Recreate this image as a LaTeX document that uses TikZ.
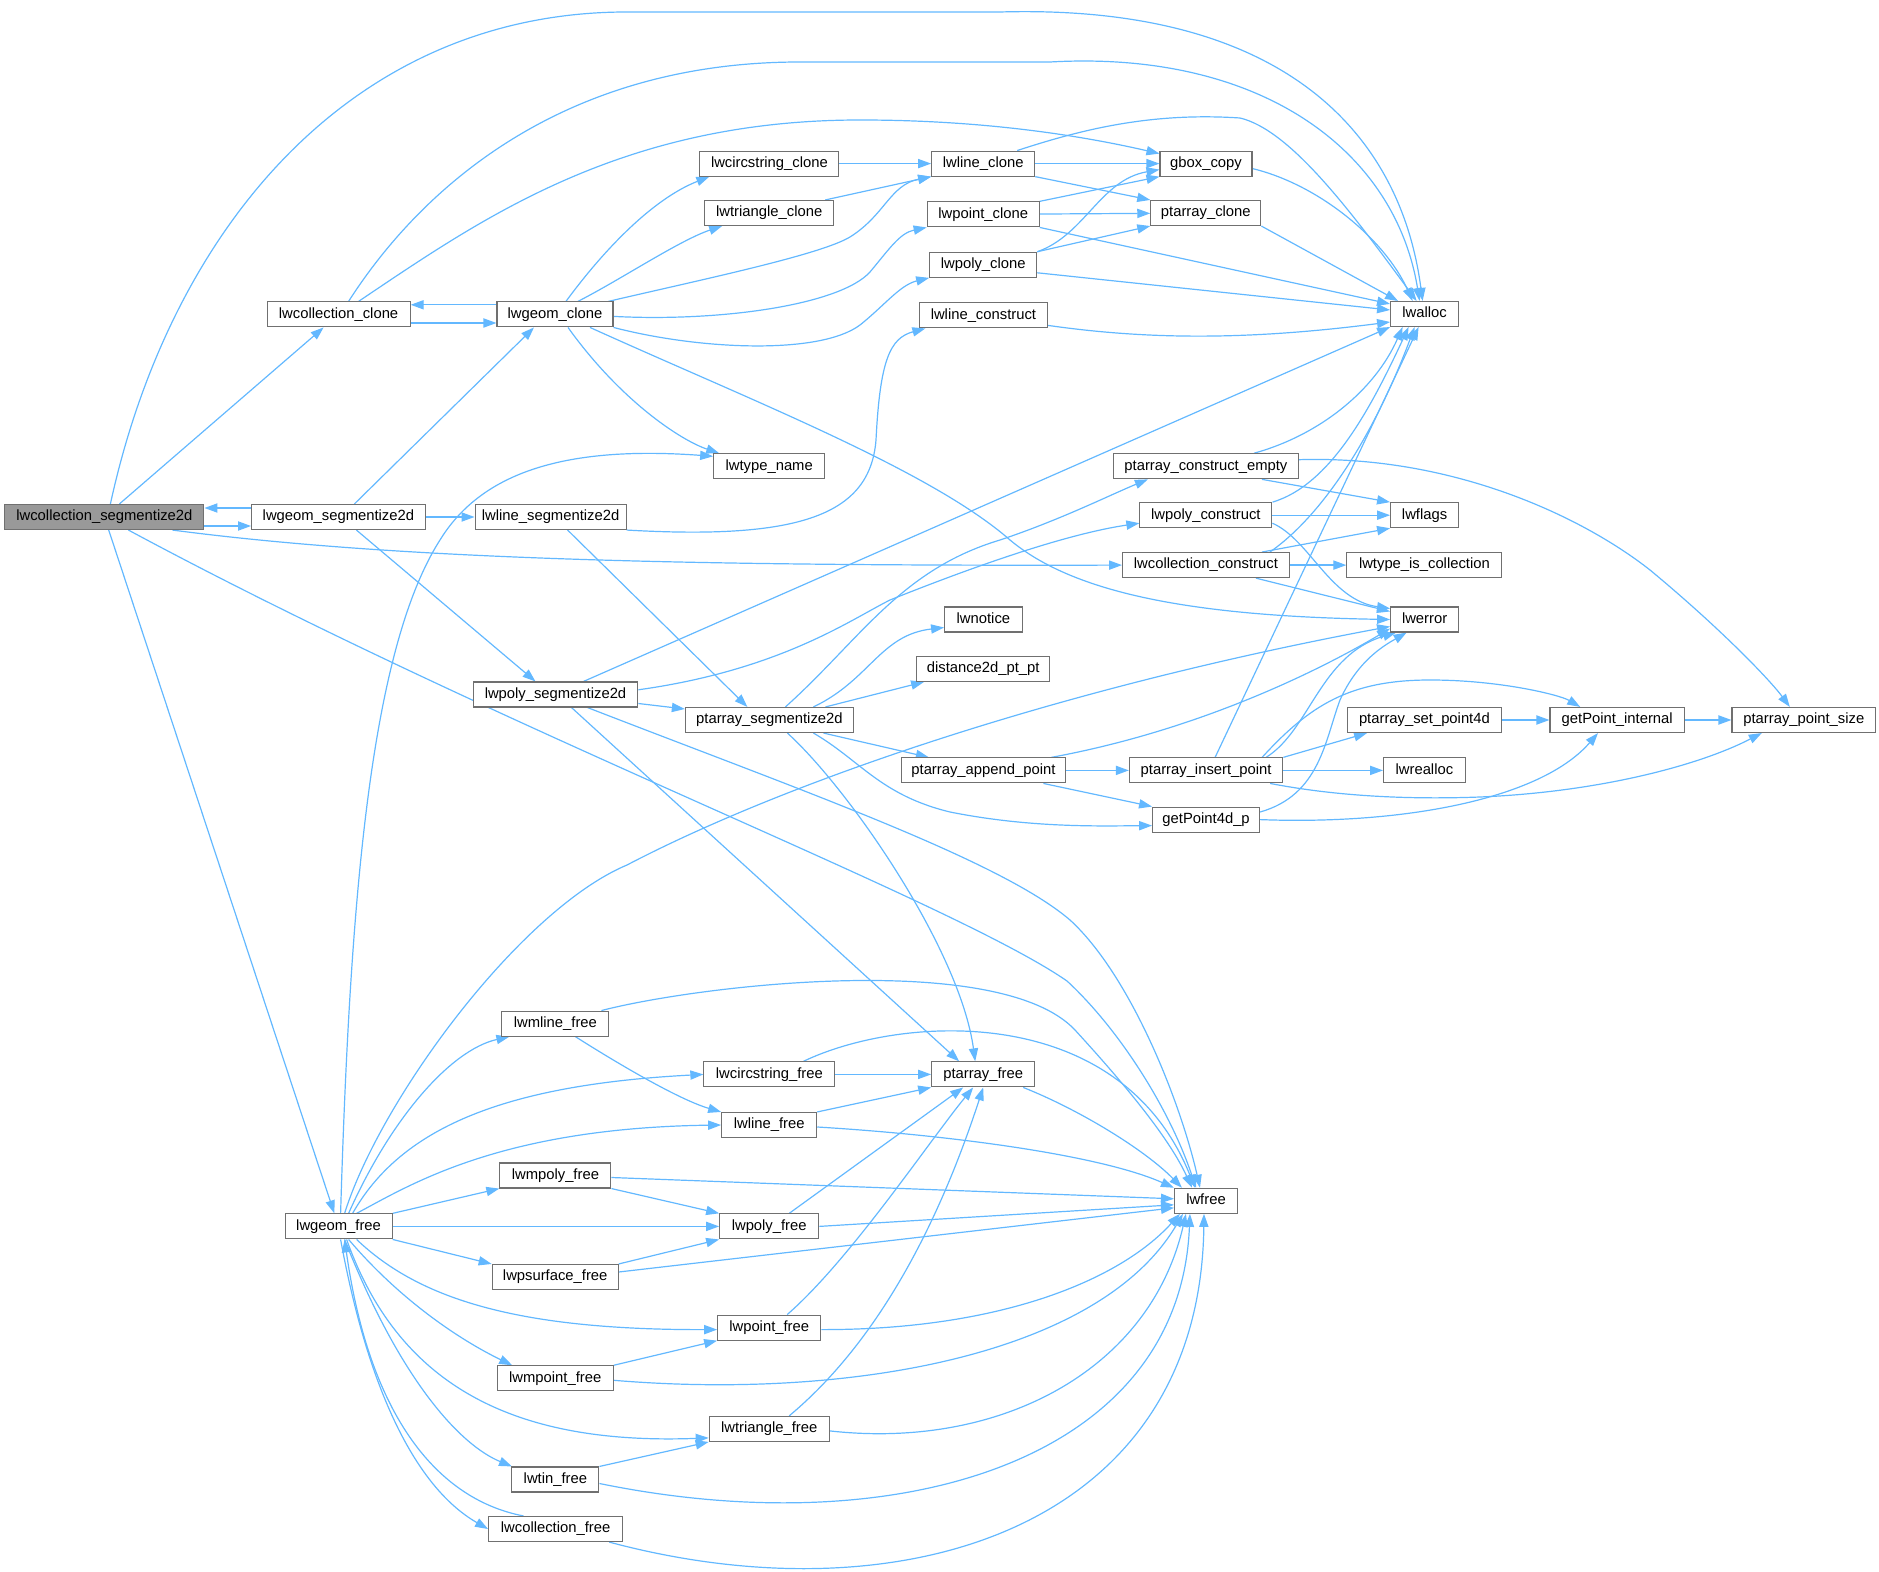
\documentclass[tikz,border=0pt]{standalone}
\usepackage{fontspec}
\setmainfont{Liberation Sans}
\usetikzlibrary{arrows.meta,backgrounds}
\definecolor{edgeblue}{HTML}{63B8FF}
\definecolor{boxgray}{HTML}{707070}
\definecolor{rootgray}{HTML}{999999}
\newcommand\fnsz{\fontsize{7.4pt}{8.5pt}\selectfont}
\begin{document}
\begin{tikzpicture}[x=0.5pt,y=-0.5pt,
  fn/.style={draw=boxgray, line width=0.55pt, fill=white, inner sep=0pt, minimum height=12.5pt, text height=5.4pt, text depth=1.5pt, font=\fnsz, text=black},
  rootn/.style={fn, fill=rootgray},
  e/.style={draw=edgeblue, line width=0.6pt, -{Triangle[length=6.5pt,width=4.6pt]}}]
\useasboundingbox (0,0) rectangle (1879,1572);
\node[rootn, minimum width=99.5pt] (S) at (104.4,517) {lwcollection\_segmentize2d};
\node[fn, minimum width=86.8pt] (GS) at (338.4,517) {lwgeom\_segmentize2d};
\node[fn, minimum width=75.5pt] (LS) at (550.6,517) {lwline\_segmentize2d};
\node[fn, minimum width=71.5pt] (CC) at (338.6,314.4) {lwcollection\_clone};
\node[fn, minimum width=58pt] (GC) at (555,314.4) {lwgeom\_clone};
\node[fn, minimum width=69.5pt] (N6) at (769.4,163.6) {lwcircstring\_clone};
\node[fn, minimum width=64.5pt] (N7) at (769.2,213) {lwtriangle\_clone};
\node[fn, minimum width=51.5pt] (N8) at (983.2,163.6) {lwline\_clone};
\node[fn, minimum width=56pt] (N9) at (983.2,214.4) {lwpoint\_clone};
\node[fn, minimum width=53.5pt] (N10) at (983.2,264.8) {lwpoly\_clone};
\node[fn, minimum width=64pt] (N11) at (983.4,315.4) {lwline\_construct};
\node[fn, minimum width=46pt] (N12) at (1206,163.6) {gbox\_copy};
\node[fn, minimum width=55pt] (N13) at (1205.8,213) {ptarray\_clone};
\node[fn, minimum width=34pt] (N14) at (1424.6,314) {lwalloc};
\node[fn, minimum width=55.5pt] (N15) at (769.2,466.3) {lwtype\_name};
\node[fn, minimum width=92.5pt] (N16) at (1205.9,466.3) {ptarray\_construct\_empty};
\node[fn, minimum width=66pt] (N17) at (1205.9,515.2) {lwpoly\_construct};
\node[fn, minimum width=34pt] (N18) at (1424.6,515.2) {lwflags};
\node[fn, minimum width=83.3pt] (N19) at (1205.9,565.1) {lwcollection\_construct};
\node[fn, minimum width=77.5pt] (N20) at (1424.4,565.1) {lwtype\_is\_collection};
\node[fn, minimum width=34pt] (N21) at (1424.6,619.5) {lwerror};
\node[fn, minimum width=38.8pt] (N22) at (983.4,619.5) {lwnotice};
\node[fn, minimum width=66.5pt] (N23) at (983.2,668.8) {distance2d\_pt\_pt};
\node[fn, minimum width=82.3pt] (N24) at (555.5,694.5) {lwpoly\_segmentize2d};
\node[fn, minimum width=84pt] (N25) at (769.4,720) {ptarray\_segmentize2d};
\node[fn, minimum width=82pt] (N26) at (983.4,770.4) {ptarray\_append\_point};
\node[fn, minimum width=76.7pt] (N27) at (1206.1,770.4) {ptarray\_insert\_point};
\node[fn, minimum width=53.5pt] (N28) at (1206.1,819.6) {getPoint4d\_p};
\node[fn, minimum width=76.8pt] (N29) at (1424.4,720) {ptarray\_set\_point4d};
\node[fn, minimum width=40.8pt] (N30) at (1424.4,770.4) {lwrealloc};
\node[fn, minimum width=67.2pt] (N31) at (1617.2,720) {getPoint\_internal};
\node[fn, minimum width=71.8pt] (N32) at (1803.8,720) {ptarray\_point\_size};
\node[fn, minimum width=53.5pt] (GF) at (338.6,1226.4) {lwgeom\_free};
\node[fn, minimum width=53.5pt] (N34) at (555.4,1023.6) {lwmline\_free};
\node[fn, minimum width=65.5pt] (N35) at (769.4,1074.4) {lwcircstring\_free};
\node[fn, minimum width=51.5pt] (N36) at (983.2,1074.4) {ptarray\_free};
\node[fn, minimum width=47.5pt] (N37) at (769.2,1125) {lwline\_free};
\node[fn, minimum width=55.5pt] (N38) at (555.4,1175.5) {lwmpoly\_free};
\node[fn, minimum width=49.5pt] (N39) at (769.2,1226.4) {lwpoly\_free};
\node[fn, minimum width=31.5pt] (N40) at (1206,1200.8) {lwfree};
\node[fn, minimum width=63pt] (N41) at (555.2,1277) {lwpsurface\_free};
\node[fn, minimum width=51.5pt] (N42) at (769.2,1327.6) {lwpoint\_free};
\node[fn, minimum width=58pt] (N43) at (555.2,1378.3) {lwmpoint\_free};
\node[fn, minimum width=60pt] (N44) at (769.2,1428.9) {lwtriangle\_free};
\node[fn, minimum width=43.5pt] (N45) at (555.4,1479.5) {lwtin\_free};
\node[fn, minimum width=67pt] (N46) at (555.6,1529) {lwcollection\_free};
\begin{pgfonlayer}{background}
% lwcollection_segmentize2d
\draw[e] ([xshift=3pt]S.north) .. controls (170,230) and (350,12) .. (627,12) -- (1000,12) .. controls (1280,4) and (1400,130) .. ([xshift=-1pt]N14.north);
\draw[e] ([xshift=7.5pt]S.north) -- ([xshift=-7.5pt]CC.south);
\draw[e] ([yshift=-4.5pt]S.east) -- ([yshift=-4.5pt]GS.west);
\draw[e] ([xshift=34pt]S.south) .. controls (400,560) and (700,566) .. (N19.west);
\draw[e] ([xshift=12pt]S.south) .. controls (500,730) and (950,900) .. (1067,981) .. controls (1120,1030) and (1170,1110) .. ([xshift=-5pt]N40.north);
\draw[e] (S) -- (GF);
% lwgeom_segmentize2d
\draw[e] ([yshift=4.5pt]GS.west) -- ([yshift=4.5pt]S.east);
\draw[e] ([xshift=8pt]GS.north) -- ([xshift=-10.5pt]GC.south);
\draw[e] (GS) -- (LS);
\draw[e] ([xshift=9pt]GS.south) -- ([xshift=-10pt]N24.north);
% lwcollection_clone
\draw[e] ([xshift=5pt]CC.north) .. controls (420,190) and (560,62) .. (800,62) -- (1050,62) .. controls (1260,50) and (1395,150) .. ([xshift=-2.5pt]N14.north);
\draw[e] ([xshift=10pt]CC.north) .. controls (480,220) and (620,120) .. (860,120) .. controls (1000,120) and (1100,140) .. ([yshift=5pt]N12.west);
\draw[e] ([yshift=-4.3pt]CC.east) -- ([yshift=-4.3pt]GC.west);
% lwgeom_clone
\draw[e] ([yshift=4.8pt]GC.west) -- ([yshift=4.8pt]CC.east);
\draw[e] ([xshift=5.5pt]GC.north) .. controls (600,255) and (650,200) .. ([xshift=5pt]N6.south west);
\draw[e] ([xshift=11.5pt]GC.north) .. controls (620,280) and (680,240) .. ([xshift=9pt]N7.south west);
\draw[e] ([xshift=-2.5pt]GC.north east) .. controls (700,280) and (820,255) .. (850,237) .. controls (885,215) and (890,185) .. (N8.south west);
\draw[e] ([yshift=-1pt]GC.east) .. controls (720,322) and (840,305) .. (870,272) .. controls (890,248) and (900,233) .. (N9.south west);
\draw[e] (GC.south east) .. controls (700,350) and (820,355) .. (860,325) .. controls (885,305) and (900,285) .. (N10.south west);
\draw[e] ([xshift=6.5pt]GC.south) .. controls (620,400) and (680,440) .. ([xshift=-25pt]N15.north);
\draw[e] ([xshift=17.5pt]GC.south) .. controls (750,400) and (930,470) .. (1010,540) .. controls (1070,590) and (1180,616) .. (N21.west);
% clones
\draw[e] (N6) -- (N8);
\draw[e] ([xshift=-4.5pt]N7.north east) -- (N8.south west);
\draw[e] (N8) -- (N12);
\draw[e] (N8.south east) -- (N13.north west);
\draw[e] ([xshift=17pt]N8.north) .. controls (1080,130) and (1150,112) .. (1240,118) .. controls (1290,130) and (1350,210) .. ([xshift=-4pt]N14.north);
\draw[e] (N9.north east) -- (N12.south west);
\draw[e] (N9) -- (N13);
\draw[e] (N9.south east) -- ([yshift=-1.5pt]N14.north west);
\draw[e] (N10.north east) .. controls (1085,235) and (1100,180) .. ([yshift=-3pt]N12.west);
\draw[e] (N10.north east) -- (N13.south west);
\draw[e] ([yshift=-4pt]N10.east) -- ([yshift=2pt]N14.west);
\draw[e] ([yshift=-5pt]N11.east) .. controls (1150,340) and (1250,340) .. ([yshift=-4pt]N14.west);
\draw[e] ([yshift=-2.5pt]N12.east) .. controls (1320,185) and (1385,240) .. ([xshift=-6pt]N14.north);
\draw[e] (N13.south east) -- ([xshift=4pt]N14.north west);
% lwline_segmentize2d
\draw[e] (LS.south east) .. controls (800,540) and (870,515) .. (876,440) .. controls (880,360) and (890,338) .. ([xshift=-29pt]N11.south);
\draw[e] ([xshift=8.5pt]LS.south) -- ([xshift=-11pt]N25.north);
% lwpoly_segmentize2d
\draw[e] ([xshift=14pt]N24.north) -- (N14.south west);
\draw[e] ([yshift=2.35pt]N24.east) .. controls (780,670) and (850,620) .. (890,600) .. controls (960,572) and (1060,535) .. ([yshift=-4pt]N17.west);
\draw[e] ([yshift=-4.5pt]N24.east) -- ([yshift=5.5pt]N25.west);
\draw[e] ([xshift=8pt]N24.south) -- ([xshift=-12pt]N36.north);
\draw[e] ([xshift=16pt]N24.south) .. controls (800,790) and (1000,860) .. (1070,920) .. controls (1130,975) and (1180,1100) .. ([xshift=-3pt]N40.north);
% ptarray_segmentize2d
\draw[e] ([xshift=8pt]N25.north) .. controls (860,640) and (900,570) .. (1000,540) .. controls (1060,520) and (1110,495) .. ([xshift=-29pt]N16.south);
\draw[e] ([xshift=22pt]N25.north) .. controls (870,680) and (880,635) .. ([yshift=-4pt]N22.west);
\draw[e] ([xshift=28pt]N25.north) -- ([xshift=4pt]N23.south west);
\draw[e] ([xshift=27pt]N25.south) -- ([xshift=14pt]N26.north west);
\draw[e] ([xshift=22pt]N25.south) .. controls (860,760) and (880,795) .. (950,812) .. controls (1030,828) and (1100,826) .. ([yshift=-3pt]N28.west);
\draw[e] ([xshift=9pt]N25.south) .. controls (850,790) and (960,950) .. ([xshift=-4pt]N36.north);
% ptarray_append_point
\draw[e] ([xshift=34pt]N26.north) .. controls (1200,730) and (1320,670) .. ([yshift=2pt]N21.south west);
\draw[e] (N26) -- (N27);
\draw[e] ([xshift=30pt]N26.south) -- (N28.north west);
% ptarray_insert_point
\draw[e] ([xshift=4.5pt]N27.north) -- ([xshift=-3pt]N14.south);
\draw[e] ([xshift=30pt]N27.north) .. controls (1310,730) and (1320,655) .. ([xshift=3pt]N21.south west);
\draw[e] (N27.north east) -- ([xshift=10pt]N29.south west);
\draw[e] ([xshift=28pt]N27.north) .. controls (1310,705) and (1350,680) .. (1430,680) .. controls (1500,680) and (1560,695) .. ([xshift=-18.5pt]N31.north);
\draw[e] (N27) -- (N30);
\draw[e] ([xshift=32pt]N27.south) .. controls (1330,795) and (1400,800) .. (1480,797) .. controls (1600,792) and (1700,765) .. ([xshift=-21pt]N32.south);
% getPoint4d_p
\draw[e] ([yshift=3.8pt]N28.east) .. controls (1320,795) and (1325,740) .. (1340,700) .. controls (1358,660) and (1385,645) .. ([xshift=-9pt]N21.south);
\draw[e] (N28.east) .. controls (1400,825) and (1540,800) .. ([xshift=-9.6pt]N31.south);
\draw[e] (N29) -- (N31);
\draw[e] (N31) -- (N32);
% ptarray_construct_empty
\draw[e] ([yshift=3.3pt]N16.east) .. controls (1450,455) and (1580,515) .. (1650,570) .. controls (1720,628) and (1770,680) .. ([xshift=-7pt]N32.north);
\draw[e] ([xshift=24pt]N16.north) .. controls (1320,435) and (1375,390) .. ([xshift=-11pt]N14.south);
\draw[e] ([xshift=28pt]N16.south) -- (N18.north west);
% lwpoly_construct
\draw[e] (N17) -- (N18);
\draw[e] (N17.north east) .. controls (1330,485) and (1370,410) .. ([xshift=-8pt]N14.south);
\draw[e] ([yshift=-4pt]N17.east) .. controls (1310,540) and (1330,600) .. ([yshift=5.5pt]N21.west);
% lwcollection_construct
\draw[e] ([xshift=32pt]N19.north) .. controls (1330,510) and (1380,420) .. ([xshift=-5pt]N14.south);
\draw[e] ([xshift=28pt]N19.north) -- (N18.south west);
\draw[e] (N19) -- (N20);
\draw[e] ([xshift=25pt]N19.south) -- ([yshift=4pt]N21.west);
% lwgeom_free
\draw[e] ([xshift=3pt]GF.north) .. controls (380,1100) and (520,910) .. (627,865) .. controls (780,785) and (1050,690) .. ([yshift=-3.5pt]N21.west);
\draw[e] ([xshift=1pt]GF.north) .. controls (350,900) and (370,650) .. (440,540) .. controls (480,475) and (560,445) .. ([yshift=5pt]N15.west);
\draw[e] ([xshift=5pt]GF.north) .. controls (390,1120) and (450,1050) .. ([xshift=-23pt]N34.south);
\draw[e] ([xshift=7pt]GF.north) .. controls (400,1130) and (500,1085) .. (N35.west);
\draw[e] ([xshift=9pt]GF.north) .. controls (410,1185) and (500,1128) .. (N37.west);
\draw[e] (GF.north east) -- (N38.south west);
\draw[e] (GF) -- (N39);
\draw[e] (GF.south east) -- (N41.north west);
\draw[e] ([xshift=9pt]GF.south) .. controls (420,1300) and (520,1330) .. ([yshift=-1pt]N42.west);
\draw[e] ([xshift=5pt]GF.south) .. controls (400,1300) and (460,1340) .. ([xshift=-21.5pt]N43.north);
\draw[e] ([xshift=4pt]GF.south) .. controls (400,1390) and (520,1445) .. ([yshift=-4.5pt]N44.west);
\draw[e] ([xshift=3pt]GF.south) .. controls (400,1380) and (460,1445) .. ([xshift=-21.7pt]N45.north);
\draw[e] ([xshift=1pt]GF.south) .. controls (370,1400) and (420,1490) .. (N46.west);
% free functions
\draw[e] ([xshift=-16pt]N46.north) .. controls (440,1500) and (370,1420) .. ([xshift=3pt]GF.south);
\draw[e] ([xshift=10pt]N34.south) .. controls (620,1065) and (680,1100) .. (N37.north west);
\draw[e] ([xshift=23pt]N34.north) .. controls (700,985) and (1000,950) .. (1075,1030) .. controls (1130,1090) and (1170,1140) .. ([xshift=-7pt]N40.north);
\draw[e] (N35) -- (N36);
\draw[e] ([xshift=17pt]N35.north) .. controls (900,1015) and (1120,1000) .. ([xshift=-5.5pt]N40.north);
\draw[e] (N37.north east) -- (N36.south west);
\draw[e] ([yshift=-1pt]N37.east) .. controls (950,1135) and (1100,1155) .. (N40.north west);
\draw[e] ([xshift=-6pt]N36.south east) .. controls (1080,1110) and (1145,1150) .. ([xshift=4pt]N40.north west);
\draw[e] (N38.south east) -- (N39.north west);
\draw[e] ([yshift=-1pt]N38.east) -- ([yshift=1pt]N40.west);
\draw[e] ([xshift=10pt]N39.north) -- ([xshift=-10pt]N36.south);
\draw[e] (N39.east) -- ([yshift=-2pt]N40.west);
\draw[e] (N41.north east) -- (N39.south west);
\draw[e] ([yshift=2.5pt]N41.east) -- ([yshift=-3.5pt]N40.west);
\draw[e] ([xshift=9pt]N42.north) .. controls (850,1260) and (930,1140) .. ([xshift=-5pt]N36.south);
\draw[e] ([yshift=-1pt]N42.east) .. controls (1000,1330) and (1120,1280) .. ([xshift=3pt]N40.south west);
\draw[e] (N43.north east) -- (N42.south west);
\draw[e] ([yshift=-1pt]N43.east) .. controls (850,1400) and (1100,1355) .. ([xshift=4.5pt]N40.south west);
\draw[e] ([xshift=10pt]N44.north) .. controls (880,1340) and (940,1220) .. (N36.south);
\draw[e] ([yshift=-1pt]N44.east) .. controls (1000,1450) and (1150,1370) .. ([xshift=6pt]N40.south west);
\draw[e] (N45.north east) -- (N44.south west);
\draw[e] ([yshift=-2pt]N45.east) .. controls (900,1545) and (1180,1460) .. ([xshift=8pt]N40.south west);
\draw[e] ([xshift=-7pt]N46.south east) .. controls (900,1620) and (1200,1530) .. ([xshift=-1pt]N40.south);
\end{pgfonlayer}
\end{tikzpicture}
\end{document}
